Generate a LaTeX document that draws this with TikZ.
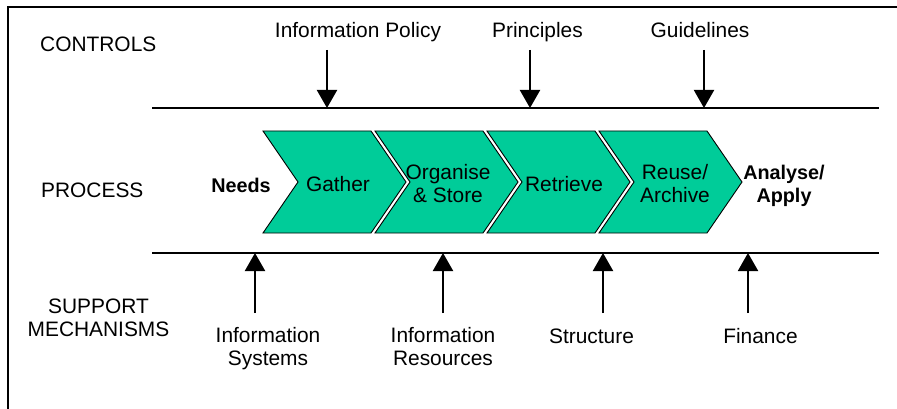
\documentclass[tikz,border=0pt]{standalone}
\usepackage{fontspec}
\setmainfont{Liberation Sans}
\usetikzlibrary{arrows.meta}
\definecolor{chev}{RGB}{0,204,153}
\begin{document}
\begin{tikzpicture}[x=1pt,y=-1pt,
  lbl/.style={font=\fontsize{20.9}{22.8}\selectfont, inner sep=0pt, anchor=base, align=center},
  blbl/.style={lbl, font=\fontsize{19.8}{22.8}\selectfont\bfseries},
  rowlbl/.style={lbl, anchor=base west},
  axis/.style={line width=2pt},
  flow/.style={line width=2pt, -{Triangle[width=20pt,length=18pt]}},
  chevron/.style={fill=chev, draw=black, line width=0.9pt, line join=miter}
]
\useasboundingbox (0,0) rectangle (897,409);
% frame (top and left edges)
\draw[line width=2pt] (8,412) -- (8,7) -- (900,7);

% row labels
\node[rowlbl] (controls) at (40,52) {CONTROLS};
\node[rowlbl] (process) at (41,197) {PROCESS};
\node[lbl] (support) at (98.5,336) {SUPPORT\\MECHANISMS};

% control and mechanism lines
\coordinate (tl) at (152,108);
\coordinate (tr) at (879,108);
\coordinate (bl) at (152,253);
\coordinate (br) at (879,253);
\draw[axis] (tl) -- (tr);
\draw[axis] (bl) -- (br);

% chevrons
\foreach \x/\n in {263/c1,375/c2,487/c3,599/c4}{
  \draw[chevron] (\x,131) -- ++(108,0) -- ++(35,51) -- ++(-35,51) -- ++(-108,0) -- ++(35,-51) -- cycle;
}

% process texts
\node[blbl] (needs) at (241,192) {Needs};
\node[lbl] (gather) at (338,191) {Gather};
\node[lbl] (organise) at (448,202) {Organise\\\& Store};
\node[lbl] (retrieve) at (564,191) {Retrieve};
\node[lbl] (reuse) at (675,202) {Reuse/\\Archive};
\node[blbl] (analyse) at (784,202) {Analyse/\\Apply};

% controls
\node[lbl] (policy) at (358,38) {Information Policy};
\node[lbl] (principles) at (537.5,38) {Principles};
\node[lbl] (guidelines) at (700,38) {Guidelines};
\coordinate (policyS) at (327,50);
\coordinate (policyE) at (327,108);
\coordinate (principlesS) at (530,50);
\coordinate (principlesE) at (530,108);
\coordinate (guidelinesS) at (704,50);
\coordinate (guidelinesE) at (704,108);
\draw[flow] (policyS) -- (policyE);
\draw[flow] (principlesS) -- (principlesE);
\draw[flow] (guidelinesS) -- (guidelinesE);

% support mechanisms
\node[lbl] (infosys) at (268,365) {Information\\Systems};
\node[lbl] (infores) at (443,365) {Information\\Resources};
\node[lbl] (structure) at (591.5,343) {Structure};
\node[lbl] (finance) at (760.5,343) {Finance};
\coordinate (infosysS) at (255,313);
\coordinate (infosysE) at (255,253);
\coordinate (inforesS) at (443,313);
\coordinate (inforesE) at (443,253);
\coordinate (structureS) at (603,313);
\coordinate (structureE) at (603,253);
\coordinate (financeS) at (748,313);
\coordinate (financeE) at (748,253);
\draw[flow] (infosysS) -- (infosysE);
\draw[flow] (inforesS) -- (inforesE);
\draw[flow] (structureS) -- (structureE);
\draw[flow] (financeS) -- (financeE);
\end{tikzpicture}
\end{document}
